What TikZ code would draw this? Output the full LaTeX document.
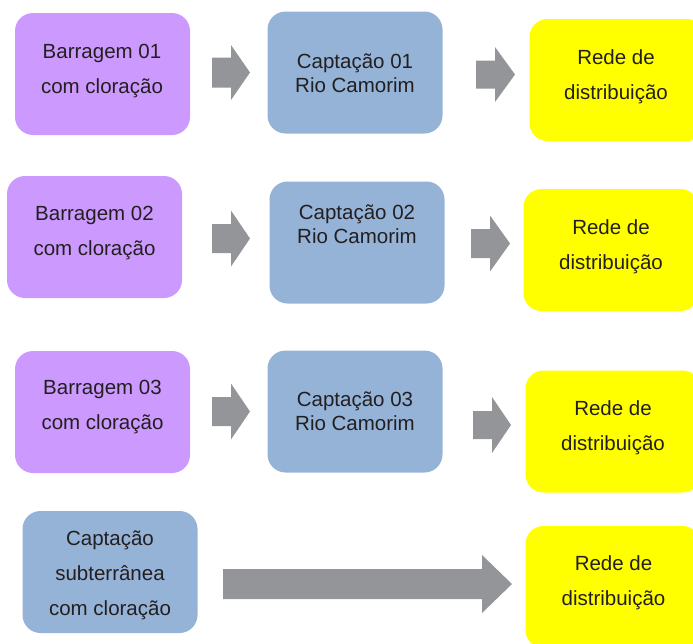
\documentclass[tikz,border=0pt]{standalone}
\usepackage{fontspec}
\setmainfont{Liberation Sans}
\usetikzlibrary{calc}
\definecolor{pur}{HTML}{CC99FF}
\definecolor{blu}{HTML}{95B3D7}
\definecolor{yel}{HTML}{FFFF00}
\definecolor{arr}{HTML}{939598}
\definecolor{txt}{HTML}{231F20}
\newcommand\blkarrow[5]{%
  \fill[arr] (#1) ++(0,-#4) -| ($(#2)+(-#3,-#5)$) -- (#2) -- ($(#2)+(-#3,#5)$) |- ($(#1)+(0,#4)$) -- cycle;}
\begin{document}
\begin{tikzpicture}[x=1pt,y=-1pt,
  box/.style={rectangle, rounded corners=18pt, minimum width=175pt, minimum height=122pt, inner sep=0pt},
  pbox/.style={box, fill=pur},
  bbox/.style={box, fill=blu},
  ybox/.style={box, fill=yel},
  lbl/.style={align=center, text=txt, inner sep=0pt, font=\fontsize{20.5}{35}\selectfont},
  lbls/.style={align=center, text=txt, inner sep=0pt, font=\fontsize{20.5}{24}\selectfont}]
\clip (0,0) rectangle (693,643);
% row 1
\node[pbox] (p1) at (102.5,74) {};
\node[bbox] (c1) at (355,72.5) {};
\node[ybox] (y1) at (617,80) {};
\node[lbl]  (tp1) at (102,71.2) {Barragem 01\\com cloração};
\node[lbls] (tc1) at (355,72.8) {Captação 01\\Rio Camorim};
\node[lbl]  (ty1) at (616,76.7) {Rede de\\distribuição};
% row 2
\node[pbox] (p2) at (94.5,237) {};
\node[bbox] (c2) at (357,242.5) {};
\node[ybox] (y2) at (611,250) {};
\node[lbl]  (tp2) at (94.5,233) {Barragem 02\\com cloração};
\node[lbls] (tc2) at (357,224.5) {Captação 02\\Rio Camorim};
\node[lbl]  (ty2) at (611,246.7) {Rede de\\distribuição};
% row 3
\node[pbox] (p3) at (102.5,412) {};
\node[bbox] (c3) at (355,411.5) {};
\node[ybox] (y3) at (613,431.5) {};
\node[lbl]  (tp3) at (102.5,407) {Barragem 03\\com cloração};
\node[lbls] (tc3) at (355,411.5) {Captação 03\\Rio Camorim};
\node[lbl]  (ty3) at (613,427.7) {Rede de\\distribuição};
% row 4
\node[bbox] (c4) at (110,572) {};
\node[ybox] (y4) at (613,587) {};
\node[lbl]  (tc4) at (110,575.5) {Captação\\subterrânea\\com cloração};
\node[lbl]  (ty4) at (613.5,582.7) {Rede de\\distribuição};
% arrows
\coordinate (a1s) at (212,72.5);  \coordinate (a1t) at (250,72.5);
\coordinate (b1s) at (476,74.5);  \coordinate (b1t) at (515,74.5);
\coordinate (a2s) at (212,238.5); \coordinate (a2t) at (250,238.5);
\coordinate (b2s) at (471,243.5); \coordinate (b2t) at (510,243.5);
\coordinate (a3s) at (212,411.5); \coordinate (a3t) at (250,411.5);
\coordinate (b3s) at (473,425);   \coordinate (b3t) at (511,425);
\coordinate (a4s) at (223,584);   \coordinate (a4t) at (512,584);
\blkarrow{a1s}{a1t}{19}{15}{27.5}
\blkarrow{b1s}{b1t}{20}{14}{27.5}
\blkarrow{a2s}{a2t}{19}{14.5}{28}
\blkarrow{b2s}{b2t}{20}{14.5}{28}
\blkarrow{a3s}{a3t}{19}{14.5}{28}
\blkarrow{b3s}{b3t}{19}{14}{28}
\blkarrow{a4s}{a4t}{30}{15}{29}
\end{tikzpicture}
\end{document}
